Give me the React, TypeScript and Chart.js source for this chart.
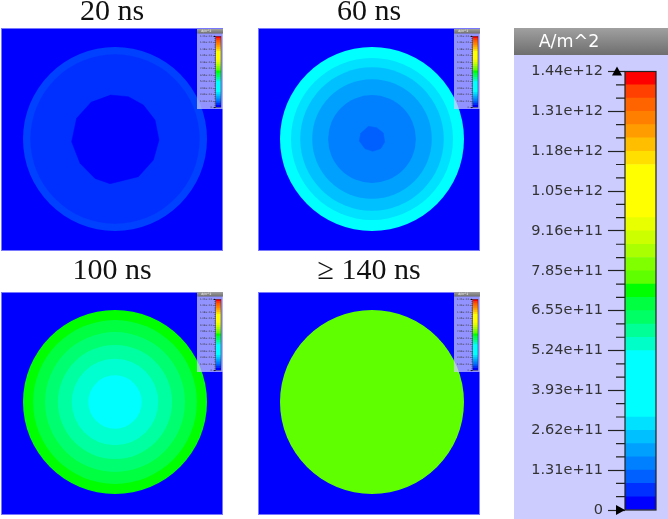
import React, { useEffect, useRef } from "react";
import { Chart, registerables } from "chart.js";

Chart.register(...registerables);

// ---------- data ----------
const colorbarMax = 1.44e12;
// bands of the colour scale, bottom to top
const bandColors = [
  "#0000ff", "#0030ff", "#0060ff", "#0080ff", "#00a0ff", "#00c0ff", "#00e0ff",
  "#00ffff", "#00ffff", "#00ffff", "#00ffff", "#00ffff",
  "#00ffc8", "#00ff96", "#00ff64", "#00ff40", "#00ff00",
  "#60ff00", "#80ff00", "#aaff00", "#ccff00", "#e8ff00",
  "#ffff00", "#ffff00", "#ffff00", "#ffff00",
  "#ffdf00", "#ffbf00", "#ff9c00", "#ff8000", "#ff6400", "#ff4000", "#ff0000",
];
const tickLabels = [
  "0", "1.31e+11", "2.62e+11", "3.93e+11", "5.24e+11", "6.55e+11",
  "7.85e+11", "9.16e+11", "1.05e+12", "1.18e+12", "1.31e+12", "1.44e+12",
];
const unitLabel = "A/m^2";

const panelBackground = "#0000ff";
const titles = ["20 ns", "60 ns", "100 ns", "\u2265 140 ns"];
// ring radii as a fraction of the disc radius, outermost first
const radii20 = [1, 0.92];
const colors20 = ["#0040ff", "#0030ff"];
const radii60 = [1, 0.88, 0.78, 0.65, 0.477];
const colors60 = ["#00ffff", "#00e0ff", "#00c0ff", "#00a0ff", "#0080ff"];
const radii100 = [1, 0.89, 0.76, 0.62, 0.47, 0.29];
const colors100 = ["#00ff00", "#00ff40", "#00ff70", "#00ffa0", "#00ffd0", "#00ffff"];
const radii140 = [1];
const colors140 = ["#60ff00"];
// faceted innermost contours, in disc radii
const core20 = [
  { x: -0.054, y: 0.478 }, { x: 0.145, y: 0.46 }, { x: 0.308, y: 0.37 }, { x: 0.435, y: 0.207 },
  { x: 0.478, y: -0.011 }, { x: 0.417, y: -0.228 }, { x: 0.254, y: -0.409 }, { x: -0.054, y: -0.486 },
  { x: -0.217, y: -0.428 }, { x: -0.38, y: -0.264 }, { x: -0.471, y: -0.029 }, { x: -0.417, y: 0.225 },
  { x: -0.254, y: 0.406 },
];
const core20Color = "#0000ff";
const core60 = [
  { x: -0.04, y: 0.138 }, { x: 0.051, y: 0.123 }, { x: 0.123, y: 0.065 }, { x: 0.138, y: -0.033 },
  { x: 0.094, y: -0.105 }, { x: 0.007, y: -0.134 }, { x: -0.076, y: -0.105 }, { x: -0.138, y: -0.022 },
  { x: -0.123, y: 0.065 },
];
const core60Color = "#0060ff";

// ---------- chart configs ----------
const discPx = 92;

function panelConfig(
  title: string,
  radii: number[],
  colors: string[],
  centre: [number, number],
  titleGap: number,
  core?: { x: number; y: number }[],
  coreColor?: string
): any {
  const W = 222;
  const H = 223;
  const rings: any[] = radii.map((r, i) => ({
    data: [{ x: 0, y: 0 }],
    order: radii.length - i + 1,
    showLine: false,
    clip: false,
    pointBackgroundColor: colors[i],
    pointBorderWidth: 0,
    pointRadius: (c: any) => {
      const s = c.chart.scales.x;
      const px = Math.abs(s.getPixelForValue(r) - s.getPixelForValue(0));
      return Number.isFinite(px) ? px : 0;
    },
  }));
  if (core) {
    rings.push({
      data: core,
      order: 0,
      showLine: true,
      fill: "shape",
      backgroundColor: coreColor,
      borderColor: coreColor,
      borderWidth: 0.5,
      tension: 0,
      pointRadius: 0,
      clip: false,
    });
  }
  return {
    type: "scatter",
    data: { datasets: rings },
    options: {
      animation: false,
      responsive: false,
      devicePixelRatio: 1,
      layout: { padding: 0 },
      events: [],
      scales: {
        x: { display: false, min: -centre[0] / discPx, max: (W - centre[0]) / discPx },
        y: { display: false, min: -(H - centre[1]) / discPx, max: centre[1] / discPx },
      },
      plugins: {
        legend: { display: false },
        tooltip: { enabled: false },
        title: {
          display: true,
          text: title,
          color: "#111",
          font: { family: "Liberation Serif", size: 30, weight: "normal", lineHeight: 25 / 30 },
          padding: { top: 0, bottom: titleGap },
        },
      },
    },
    plugins: [
      {
        id: "panelBg",
        beforeDatasetsDraw(chart: any) {
          const a = chart.chartArea;
          const g = chart.ctx;
          g.save();
          g.fillStyle = panelBackground;
          g.fillRect(a.left, a.top, a.width, a.height);
          g.restore();
        },
        afterDatasetsDraw(chart: any) {
          const a = chart.chartArea;
          const g = chart.ctx;
          g.save();
          g.strokeStyle = "rgba(150,150,255,0.8)";
          g.lineWidth = 1;
          g.strokeRect(a.left + 0.5, a.top + 0.5, a.width - 1, a.height - 1);
          g.restore();
        },
      },
    ],
  };
}

function colorbarConfig(k: number, bg: string): any {
  const seg = colorbarMax / bandColors.length;
  const tickValues = Array.from({ length: bandColors.length + 1 }, (_, i) => i * seg);
  const labelFor = (i: number) => (i % 3 === 0 ? tickLabels[i / 3] : "");
  return {
    type: "bar",
    data: {
      labels: [""],
      datasets: bandColors.map((c) => ({
        data: [seg],
        backgroundColor: c,
        borderWidth: 0,
        barPercentage: 1,
        categoryPercentage: 1,
      })),
    },
    options: {
      animation: false,
      responsive: false,
      devicePixelRatio: 1,
      events: [],
      layout: { padding: { left: 0, right: 12 * k, top: 43.5 * k, bottom: 9 * k } },
      scales: {
        x: { display: false, stacked: true },
        y: {
          stacked: true,
          min: 0,
          max: colorbarMax,
          border: { display: false },
          grid: {
            drawOnChartArea: false,
            drawTicks: true,
            tickLength: 17 * k,
            tickWidth: Math.max(1.2 * k, 0.4),
            tickColor: (c: any) => (c.index % 3 === 0 ? "#222" : "rgba(0,0,0,0)"),
          },
          ticks: {
            autoSkip: false,
            maxRotation: 0,
            padding: 5 * k,
            color: "#333",
            font: { family: "DejaVu Sans", size: 14.5 * k },
            callback: (_v: any, i: number) => labelFor(i),
          },
          afterBuildTicks: (s: any) => {
            s.ticks = tickValues.map((value) => ({ value }));
          },
          afterFit: (s: any) => {
            s.width = 111 * k;
            s.paddingTop = 0;
            s.paddingBottom = 0;
            s.paddingLeft = 0;
            s.paddingRight = 0;
          },
        },
      },
      plugins: { legend: { display: false }, tooltip: { enabled: false }, title: { display: false } },
    },
    plugins: [
      {
        id: "colorbarFrame",
        beforeDraw(chart: any) {
          const g = chart.ctx;
          const W = chart.width;
          const H = chart.height;
          g.save();
          g.fillStyle = bg;
          g.fillRect(0, 0, W, H);
          const band = g.createLinearGradient(0, 0, 0, 27 * k);
          band.addColorStop(0, "#a0a0a0");
          band.addColorStop(1, "#6e6e6e");
          g.fillStyle = band;
          g.fillRect(0, 0, W, 27 * k);
          g.fillStyle = "#ffffff";
          g.font = `${17.5 * k}px "DejaVu Sans"`;
          g.textBaseline = "middle";
          g.textAlign = "center";
          g.fillText(unitLabel, 55 * k, 14 * k);
          g.restore();
        },
        afterDatasetsDraw(chart: any) {
          const a = chart.chartArea;
          const g = chart.ctx;
          const y = chart.scales.y;
          g.save();
          g.strokeStyle = "#222";
          g.lineWidth = Math.max(1.2 * k, 0.4);
          g.strokeRect(a.left, a.top, a.width, a.height);
          // short ticks between labelled ones
          g.beginPath();
          tickValues.forEach((v, i) => {
            if (i % 3 !== 0) {
              const p = y.getPixelForValue(v);
              g.moveTo(a.left - 9 * k, p);
              g.lineTo(a.left, p);
            }
          });
          g.stroke();
          // min and max markers
          g.fillStyle = "#000";
          const top = y.getPixelForValue(colorbarMax);
          const mid = a.left - 8 * k;
          g.beginPath();
          g.moveTo(mid, top - 5 * k);
          g.lineTo(mid + 5 * k, top + 4 * k);
          g.lineTo(mid - 5 * k, top + 4 * k);
          g.closePath();
          g.fill();
          const bottom = y.getPixelForValue(0);
          g.beginPath();
          g.moveTo(a.left, bottom);
          g.lineTo(a.left - 9 * k, bottom - 5 * k);
          g.lineTo(a.left - 9 * k, bottom + 5 * k);
          g.closePath();
          g.fill();
          g.restore();
        },
      },
    ],
  };
}

// ---------- components ----------
function ChartBox(props: { left: number; top: number; width: number; height: number; config: any }) {
  const ref = useRef<HTMLCanvasElement>(null);
  useEffect(() => {
    const chart = new Chart(ref.current as HTMLCanvasElement, props.config);
    return () => chart.destroy();
  }, []);
  const { left, top, width, height } = props;
  return (
    <canvas
      ref={ref}
      width={width}
      height={height}
      style={{ position: "absolute", left, top, width, height, display: "block" }}
    />
  );
}

const insetBg = "rgba(204,204,255,0.72)";
const insetK = 26 / 154;

export default function App() {
  return (
    <div style={{ position: "absolute", left: 0, top: 0, width: 668, height: 519, background: "#fff", overflow: "hidden" }}>
      <ChartBox left={1} top={0} width={222} height={251} config={panelConfig(titles[0], radii20, colors20, [114, 111], 3, core20, core20Color)} />
      <ChartBox left={258} top={0} width={222} height={251} config={panelConfig(titles[1], radii60, colors60, [114, 111], 3, core60, core60Color)} />
      <ChartBox left={1} top={259} width={222} height={256} config={panelConfig(titles[2], radii100, colors100, [114, 110], 8)} />
      <ChartBox left={258} top={259} width={222} height={256} config={panelConfig(titles[3], radii140, colors140, [114, 110], 8)} />
      <ChartBox left={197} top={29} width={26} height={80} config={colorbarConfig(insetK, insetBg)} />
      <ChartBox left={454} top={29} width={26} height={80} config={colorbarConfig(insetK, insetBg)} />
      <ChartBox left={197} top={292} width={26} height={80} config={colorbarConfig(insetK, insetBg)} />
      <ChartBox left={454} top={292} width={26} height={80} config={colorbarConfig(insetK, insetBg)} />
      <ChartBox left={514} top={28} width={154} height={491} config={colorbarConfig(1, "#ccccff")} />
    </div>
  );
}
